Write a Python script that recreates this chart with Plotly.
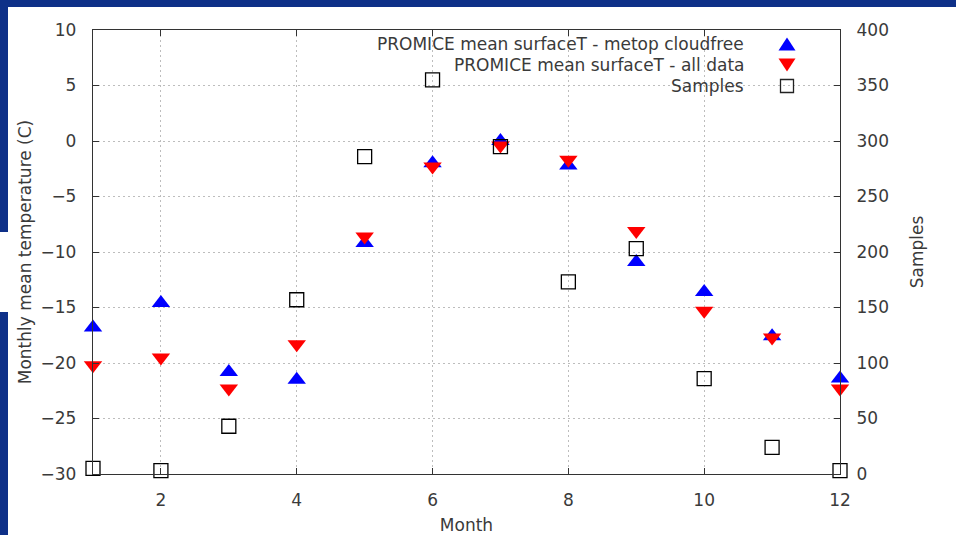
import plotly.graph_objects as go

months = [1, 2, 3, 4, 5, 6, 7, 8, 9, 10, 11, 12]
metop_cloudfree = [-16.8, -14.6, -20.8, -21.5, -9.2, -2.0, 0.0, -2.2, -10.9, -13.6, -17.6, -21.4]
all_data = [-20.2, -19.5, -22.3, -18.3, -8.6, -2.3, -0.4, -1.7, -8.1, -15.3, -17.7, -22.3]
samples = [5, 3, 43, 157, 286, 355, 295, 173, 203, 86, 24, 3]

names = ["PROMICE mean surfaceT - metop cloudfree", "PROMICE mean surfaceT - all data", "Samples"]

W, H = 956, 535
L, R, T, B = 93, 840, 30, 474
NAVY = "#0e3088"
TXT = "#3a3a3a"
FONT = "DejaVu Sans"
FS = 17


def px(x):
    return (x - L) / (R - L)


def py(y):
    return (B - y) / (B - T)


fig = go.Figure()
fig.add_trace(go.Scatter(x=months, y=samples, name=names[2], mode="markers", yaxis="y2", cliponaxis=False,
                         marker=dict(symbol="square-open", size=14, color="black",
                                     line=dict(width=1.3, color="#222"))))
fig.add_trace(go.Scatter(x=months, y=metop_cloudfree, name=names[0], mode="markers", cliponaxis=False,
                         marker=dict(symbol="triangle-up", size=16, color="#0000ff",
                                     line=dict(width=0))))
fig.add_trace(go.Scatter(x=months, y=all_data, name=names[1], mode="markers", cliponaxis=False,
                         marker=dict(symbol="triangle-down", size=16, color="#ff0000",
                                     line=dict(width=0))))

shapes = []
# navy decorative frame
shapes.append(dict(type="rect", xref="paper", yref="paper", x0=px(-5), x1=px(W + 5), y0=py(7), y1=py(-5),
                   fillcolor=NAVY, line=dict(width=0), layer="below"))
shapes.append(dict(type="rect", xref="paper", yref="paper", x0=px(-5), x1=px(8), y0=py(232), y1=py(-5),
                   fillcolor=NAVY, line=dict(width=0), layer="below"))
shapes.append(dict(type="rect", xref="paper", yref="paper", x0=px(-5), x1=px(8), y0=py(H + 5), y1=py(312),
                   fillcolor=NAVY, line=dict(width=0), layer="below"))

# legend symbols (drawn to the right of the text, gnuplot style)
lx = 787
ly = [44, 65, 86]
hw = 8.5
hh = 6.5
shapes.append(dict(type="path", xref="paper", yref="paper",
                   path=f"M {px(lx-hw)} {py(ly[0]+hh)} L {px(lx+hw)} {py(ly[0]+hh)} L {px(lx)} {py(ly[0]-hh)} Z",
                   fillcolor="#0000ff", line=dict(width=0)))
shapes.append(dict(type="path", xref="paper", yref="paper",
                   path=f"M {px(lx-hw)} {py(ly[1]-hh)} L {px(lx+hw)} {py(ly[1]-hh)} L {px(lx)} {py(ly[1]+hh)} Z",
                   fillcolor="#ff0000", line=dict(width=0)))
shapes.append(dict(type="rect", xref="paper", yref="paper", x0=px(lx-6.5), x1=px(lx+6.5),
                   y0=py(ly[2]+6.5), y1=py(ly[2]-6.5), line=dict(width=1.3, color="#222"),
                   fillcolor="rgba(0,0,0,0)"))

annotations = []
for nm, yy in zip(names, ly):
    annotations.append(dict(text=nm, xref="paper", yref="paper", x=px(746), y=py(yy),
                            xanchor="right", yanchor="middle", showarrow=False,
                            font=dict(family=FONT, size=FS, color=TXT)))

axis_common = dict(showline=True, linecolor="#333", linewidth=1.3, ticks="inside", ticklen=6,
                   tickcolor="#333", zeroline=False, automargin=False,
                   tickfont=dict(family=FONT, size=FS, color=TXT))

GRID = dict(showgrid=True, gridcolor="#bdbdbd", griddash="2px,3px", gridwidth=1)

fig.update_layout(
    width=W, height=H,
    margin=dict(l=L, r=W - R, t=T, b=H - B, autoexpand=False),
    paper_bgcolor="white", plot_bgcolor="white",
    showlegend=False,
    shapes=shapes, annotations=annotations,
    font=dict(family=FONT, size=FS, color=TXT),
    xaxis=dict(range=[1, 12], tick0=0, dtick=2, mirror="ticks",
               title=dict(text="Month", font=dict(family=FONT, size=FS, color=TXT), standoff=16),
               ticklabelstandoff=10,
               **GRID, **axis_common),
    yaxis=dict(range=[-30, 10], dtick=5, mirror=True,
               title=dict(text="Monthly mean temperature (C)", font=dict(family=FONT, size=FS, color=TXT),
                          standoff=4),
               ticklabelstandoff=12,
               **GRID, **axis_common),
    yaxis2=dict(range=[0, 400], dtick=50, overlaying="y", side="right", showgrid=False,
                title=dict(text="Samples", font=dict(family=FONT, size=FS, color=TXT), standoff=23),
                ticklabelstandoff=12,
                **axis_common),
)

fig.write_html("out.html", config={"displayModeBar": False},
               post_script="document.body.style.margin='0';document.body.style.overflow='hidden';")
